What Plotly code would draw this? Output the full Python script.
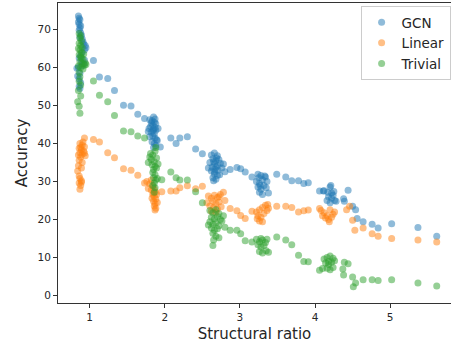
import plotly.graph_objects as go

# ---- data ----
gcn_points = [
    # cluster near ratio ~0.9
    (0.85,73.6),(0.86,73.0),(0.87,72.6),(0.85,72.0),(0.86,71.4),(0.88,71.0),(0.87,70.4),(0.86,69.8),
    (0.88,69.2),(0.89,68.5),(0.87,68.0),(0.90,67.5),(0.91,66.8),(0.92,66.2),(0.94,65.8),(0.95,65.2),
    (0.93,64.6),(0.90,64.0),(0.88,63.2),(0.86,62.5),(0.89,61.5),(0.92,61.0),(0.85,60.0),(0.83,59.8),
    (0.87,58.5),(0.84,57.8),(0.86,57.0),(0.88,56.0),(0.86,55.0),(0.87,54.5),(0.90,60.5),(0.93,62.0),
    # trail
    (1.05,61.9),(1.13,57.5),(1.24,57.1),(1.33,54.0),(1.45,50.1),(1.55,49.9),(1.64,47.7),(1.73,46.6),
    # cluster near 1.85
    (1.80,46.3),(1.83,46.0),(1.86,45.6),(1.88,45.2),(1.84,44.8),(1.81,44.5),(1.79,44.0),(1.85,43.8),
    (1.88,43.5),(1.82,43.0),(1.86,42.6),(1.84,42.0),(1.80,41.8),(1.87,41.5),(1.89,41.0),(1.83,40.5),
    (1.86,40.0),(1.88,39.5),(1.85,39.0),(1.90,40.8),(1.78,43.2),(1.91,44.0),(1.87,46.5),(1.82,45.5),
    (1.85,47.0),(1.94,39.1),(1.84,43.4),(1.87,44.2),
    # trail
    (2.08,41.5),(2.15,40.0),(2.20,41.5),(2.30,41.8),(2.41,38.6),(2.50,37.3),
    # cluster near 2.7
    (2.62,37.0),(2.66,37.5),(2.70,36.8),(2.64,36.0),(2.68,35.5),(2.72,35.8),(2.60,35.0),(2.66,34.6),
    (2.70,34.2),(2.74,34.8),(2.63,33.8),(2.67,33.2),(2.71,33.0),(2.76,33.6),(2.62,32.8),(2.66,32.0),
    (2.70,31.6),(2.64,31.0),(2.68,30.6),(2.73,31.8),(2.78,34.6),(2.80,32.6),(2.58,33.6),(2.69,36.2),
    (2.65,30.2),(2.65,35.2),(2.68,33.8),(2.66,32.6),
    # trail
    (2.87,33.2),(2.96,33.7),(3.01,33.4),(3.07,32.5),(3.16,31.2),(3.24,31.9),
    # cluster near 3.3
    (3.22,30.0),(3.26,29.5),(3.30,30.5),(3.34,31.2),(3.36,30.0),(3.24,28.6),(3.28,28.0),(3.32,29.0),
    (3.26,27.2),(3.30,26.6),(3.35,28.4),(3.38,27.0),(3.28,31.6),(3.33,31.5),(3.25,31.0),(3.27,29.0),
    # trail
    (3.49,31.9),(3.61,31.2),(3.69,30.2),(3.78,30.2),(3.85,29.5),(3.91,29.7),(4.06,27.5),(4.11,27.5),
    # cluster near 4.2
    (4.12,27.6),(4.17,27.2),(4.20,28.6),(4.22,27.0),(4.25,27.4),(4.18,26.0),(4.22,25.6),(4.26,25.0),
    (4.20,24.4),(4.24,26.4),(4.28,24.8),(4.16,25.0),(4.21,29.0),
    # tail
    (4.38,25.5),(4.39,24.8),(4.44,27.7),(4.50,23.5),(4.54,22.6),(4.56,20.3),(4.64,19.4),(4.76,18.8),
    (4.84,17.8),(5.02,18.9),(5.37,17.9),(5.62,15.6),
]

linear_points = [
    (0.87,40.0),(0.90,39.6),(0.93,39.2),(0.86,38.8),(0.89,38.4),(0.92,38.0),(0.87,37.6),(0.90,37.2),
    (0.94,36.8),(0.88,36.5),(0.85,37.0),(0.91,40.4),(0.88,39.0),(0.93,37.5),(0.86,35.6),(0.90,35.0),
    (0.85,34.2),(0.89,33.6),(0.84,32.8),(0.87,30.8),(0.89,30.2),(0.86,29.6),(0.88,29.0),(0.87,28.0),
    (0.89,29.8),(0.86,31.5),(0.93,41.5),
    (1.05,41.1),(1.13,40.4),(1.24,37.6),(1.33,36.3),(1.45,33.4),(1.55,33.0),(1.64,31.7),(1.73,29.6),
    (1.76,30.0),(1.80,29.4),(1.84,28.8),(1.78,28.2),(1.82,27.8),(1.86,28.0),(1.88,27.2),(1.84,26.6),
    (1.86,26.0),(1.88,25.4),(1.85,24.8),(1.87,24.2),(1.86,23.6),(1.88,23.0),(1.87,22.5),(1.83,25.6),
    (1.89,26.6),(1.82,30.4),(1.90,24.5),(1.85,27.0),
    (1.96,27.3),(2.08,27.5),(2.15,27.5),(2.20,28.4),(2.30,28.9),(2.41,28.1),(2.50,28.8),
    (2.58,26.2),(2.62,25.6),(2.66,26.4),(2.70,25.8),(2.74,26.6),(2.78,27.2),(2.64,24.8),(2.68,24.2),
    (2.72,24.6),(2.60,23.6),(2.65,23.2),(2.70,22.8),(2.75,23.4),(2.62,22.2),(2.68,21.9),(2.80,25.0),
    (2.56,24.4),(2.72,26.0),
    (2.87,22.9),(2.96,22.3),(3.01,21.1),(3.07,20.3),(3.16,22.2),
    (3.22,22.0),(3.26,22.6),(3.30,23.2),(3.34,23.8),(3.37,24.0),(3.24,21.0),(3.28,20.6),(3.32,21.6),
    (3.26,19.6),(3.30,19.4),(3.36,22.4),(3.38,23.0),(3.23,20.2),
    (3.49,23.5),(3.61,23.5),(3.69,23.2),(3.78,22.0),(3.85,22.3),(3.91,22.5),(4.06,22.9),
    (4.08,22.4),(4.12,21.8),(4.16,21.0),(4.20,22.6),(4.24,21.4),(4.14,20.4),(4.18,20.0),(4.22,20.6),
    (4.19,19.4),(4.26,22.0),(4.10,21.0),
    (4.42,22.6),(4.46,23.5),(4.50,19.8),(4.53,17.2),(4.64,17.8),(4.76,16.3),(4.84,15.6),(5.02,15.0),
    (5.37,14.6),(5.62,14.1),
]

trivial_points = [
    (0.86,69.0),(0.88,68.4),(0.87,67.8),(0.89,67.0),(0.86,66.4),(0.88,65.8),(0.90,65.2),(0.87,64.6),
    (0.89,64.0),(0.86,63.4),(0.88,62.8),(0.91,62.2),(0.87,61.6),(0.90,61.0),(0.93,60.6),(0.85,60.4),
    (0.88,60.0),(0.91,59.6),(0.86,58.8),(0.89,62.5),(0.94,61.2),(0.87,57.6),(0.86,56.4),(0.88,55.4),
    (0.85,54.0),(0.88,52.5),(0.84,51.0),(0.86,49.8),(0.87,48.0),(0.85,65.0),(0.92,63.6),(0.95,60.8),
    (1.05,56.5),(1.13,52.7),(1.24,51.0),(1.33,47.4),(1.45,43.3),(1.55,43.1),(1.64,42.0),(1.73,41.5),
    (1.80,36.5),(1.84,37.0),(1.87,38.0),(1.88,39.0),(1.82,35.8),(1.86,35.2),(1.89,36.2),(1.78,35.0),
    (1.83,34.4),(1.87,34.0),(1.85,33.2),(1.89,33.6),(1.84,32.4),(1.87,31.8),(1.85,31.0),(1.88,30.4),
    (1.86,29.6),(1.84,29.0),(1.87,28.4),(1.86,27.2),(1.90,30.8),(1.81,37.4),(1.91,34.6),
    (1.96,30.5),(2.08,32.5),(2.15,31.0),(2.20,30.4),(2.30,30.4),(2.41,27.3),(2.50,24.4),
    (2.60,22.4),(2.64,21.8),(2.68,22.6),(2.72,21.6),(2.62,20.6),(2.66,20.2),(2.70,20.8),(2.74,20.0),
    (2.60,19.4),(2.64,18.8),(2.68,19.2),(2.72,18.4),(2.76,19.6),(2.62,17.8),(2.66,17.2),(2.70,17.6),
    (2.64,16.4),(2.68,15.6),(2.72,15.2),(2.65,14.6),(2.64,13.2),(2.78,21.0),(2.80,18.0),(2.58,18.6),
    (2.87,17.2),(2.96,17.2),(3.01,16.3),(3.07,14.4),(3.16,14.1),
    (3.22,14.8),(3.26,14.2),(3.30,14.6),(3.34,14.0),(3.36,14.8),(3.24,13.4),(3.28,12.8),(3.32,13.2),
    (3.26,11.6),(3.30,11.2),(3.35,11.8),(3.38,11.4),(3.28,15.0),
    (3.49,15.4),(3.61,14.6),(3.69,13.4),(3.78,10.6),(3.85,9.0),(3.91,8.9),(4.06,6.7),(4.10,7.1),
    (4.12,9.6),(4.16,10.0),(4.20,10.4),(4.24,9.8),(4.14,8.6),(4.18,8.2),(4.22,8.8),(4.26,9.2),
    (4.16,7.2),(4.20,6.8),(4.24,7.4),(4.18,9.0),
    (4.37,7.0),(4.38,5.4),(4.39,8.8),(4.44,8.4),(4.50,4.9),(4.51,2.3),(4.54,3.3),(4.64,4.2),
    (4.76,4.2),(4.84,4.0),(5.02,4.2),(5.37,3.3),(5.62,2.5),
]

series_names = ["GCN", "Linear", "Trivial"]
series_colors = ["#1f77b4", "#ff7f0e", "#2ca02c"]
x_ticks = [1, 2, 3, 4, 5]
y_ticks = [0, 10, 20, 30, 40, 50, 60, 70]

fig = go.Figure()
for name, pts, col in zip(series_names, [gcn_points, linear_points, trivial_points], series_colors):
    xs = [p[0] for p in pts]
    ys = [p[1] for p in pts]
    fig.add_trace(go.Scatter(
        x=xs, y=ys, mode="markers", name=name,
        marker=dict(size=7, color=col, opacity=0.5, line=dict(width=0)),
    ))

axis_common = dict(
    showline=True, linecolor="#333333", linewidth=1, mirror=True,
    ticks="outside", ticklen=4, tickcolor="#333333", tickwidth=1,
    showgrid=False, zeroline=False,
    tickfont=dict(family="DejaVu Sans", size=10.5, color="#262626"),
)

fig.update_layout(
    width=451, height=343,
    margin=dict(l=58, r=0, t=3, b=40),
    plot_bgcolor="white", paper_bgcolor="white",
    xaxis=dict(range=[0.578, 5.81], tickvals=x_ticks,
               title=dict(text="Structural ratio", font=dict(family="DejaVu Sans", size=15, color="#262626"), standoff=6),
               **axis_common),
    yaxis=dict(range=[-1.95, 77.0], tickvals=y_ticks,
               title=dict(text="Accuracy", font=dict(family="DejaVu Sans", size=15, color="#262626"), standoff=6),
               **axis_common),
    legend=dict(x=0.77, y=0.99, xanchor="left", yanchor="top",
                bgcolor="rgba(255,255,255,0.8)", bordercolor="#cccccc", borderwidth=1,
                font=dict(family="DejaVu Sans", size=13.5, color="#262626")),
    showlegend=True,
)

fig.write_html("out.html", config={"displayModeBar": False},
               post_script="document.body.style.margin='0';")
